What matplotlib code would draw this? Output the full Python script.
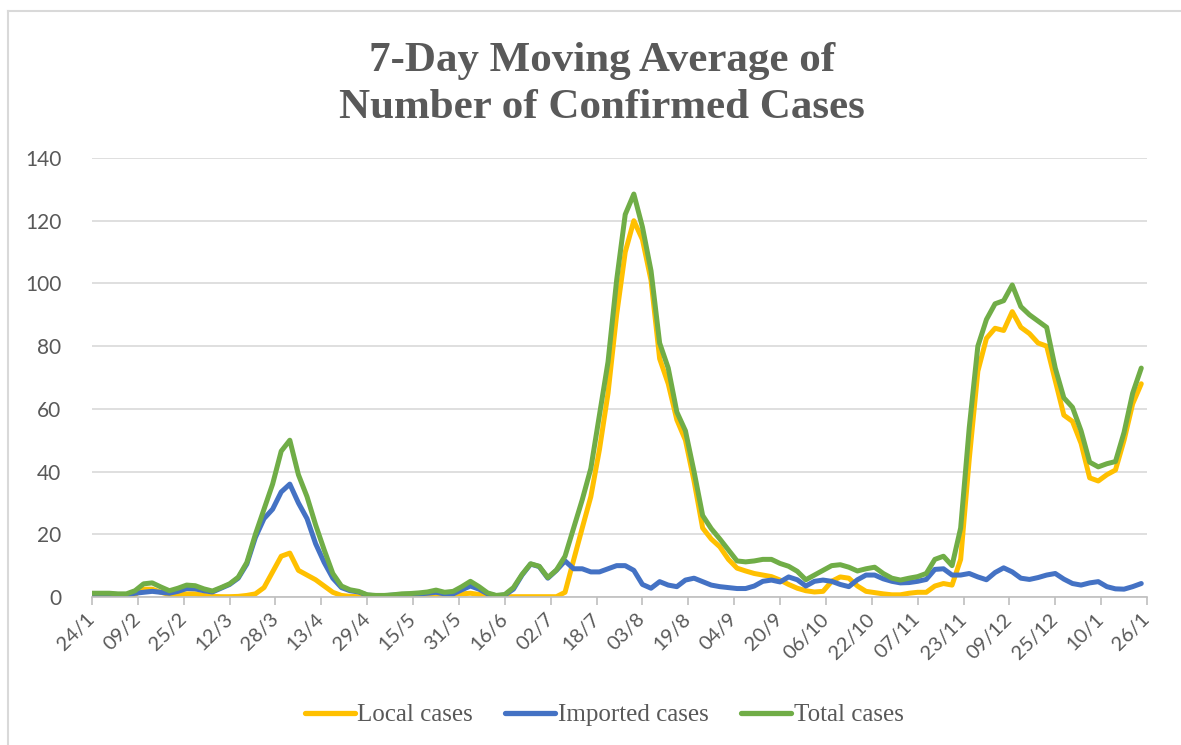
import numpy as np
import pandas as pd
import matplotlib
matplotlib.use("Agg")
import matplotlib.pyplot as plt
from matplotlib.lines import Line2D

# ---- data (7-day moving averages, read every 3 days from 24/1/2020) ----
start_date = "2020-01-24"
day_offset = list(range(0, 367, 3))

local_cases = [
    0.3, 0.3, 0.3, 0.2, 0.3, 0.8, 2.5, 2.5, 1.5, 0.8,
    0.8, 1.0, 1.0, 0.5, 0.2, 0.1, 0.1, 0.2, 0.5, 1.0,
    3.0, 8.0, 13.0, 14.0, 8.5, 7.0, 5.5, 3.5, 1.5, 0.5,
    0.2, 0.1, 0.1, 0.1, 0.1, 0.1, 0.1, 0.2, 0.3, 0.4,
    0.5, 0.3, 0.8, 1.0, 1.2, 0.8, 0.3, 0.1, 0.1, 0.1,
    0.1, 0.1, 0.1, 0.1, 0.1, 1.5, 11.8, 22.0, 32.0, 47.0,
    65.0, 90.0, 110.0, 120.0, 114.0, 101.0, 76.0, 68.0, 56.5, 50.0,
    37.0, 22.0, 18.5, 16.0, 12.0, 9.2, 8.3, 7.5, 7.0, 6.5,
    5.4, 4.0, 2.8, 2.0, 1.6, 1.8, 5.0, 6.4, 6.0, 3.5,
    1.8, 1.4, 1.0, 0.7, 0.7, 1.2, 1.5, 1.5, 3.5, 4.3,
    3.8, 12.0, 44.0, 72.0, 82.5, 85.7, 85.0, 91.0, 86.0, 84.0,
    81.0, 80.0, 69.0, 58.0, 56.0, 49.0, 38.0, 37.0, 39.0, 40.5,
    50.0, 61.6, 68.0,
]
imported_cases = [
    0.9, 0.9, 0.9, 0.8, 0.6, 1.2, 1.5, 1.8, 1.5, 1.2,
    1.8, 2.7, 2.6, 2.0, 1.6, 2.8, 4.0, 6.0, 10.5, 19.0,
    25.0, 28.0, 33.5, 36.0, 30.0, 25.0, 17.0, 11.0, 6.0, 3.0,
    2.0, 1.6, 0.6, 0.4, 0.4, 0.6, 0.8, 0.9, 1.0, 1.2,
    1.5, 1.0, 1.0, 2.3, 3.5, 2.5, 1.0, 0.4, 0.6, 2.5,
    7.0, 10.5, 9.7, 6.0, 8.5, 11.5, 9.0, 9.0, 8.0, 8.0,
    9.0, 10.0, 10.0, 8.5, 4.0, 2.8, 4.9, 3.8, 3.3, 5.4,
    6.0, 4.9, 3.8, 3.3, 3.0, 2.7, 2.7, 3.5, 5.0, 5.4,
    4.8, 6.4, 5.5, 3.5, 5.0, 5.4, 5.0, 4.0, 3.3, 5.5,
    7.0, 7.0, 5.8, 5.0, 4.5, 4.6, 5.0, 5.6, 8.8, 9.0,
    7.0, 7.0, 7.5, 6.4, 5.5, 7.8, 9.3, 8.0, 6.0, 5.6,
    6.2, 7.0, 7.5, 5.7, 4.3, 3.8, 4.5, 4.9, 3.3, 2.6,
    2.5, 3.3, 4.3,
]
total_cases = [
    1.2, 1.2, 1.2, 1.0, 1.0, 2.0, 4.2, 4.5, 3.2, 2.0,
    2.8, 3.8, 3.6, 2.6, 1.9, 3.0, 4.2, 6.3, 11.0, 20.0,
    28.0, 36.0, 46.5, 50.0, 39.0, 32.0, 23.0, 15.0, 7.5, 3.5,
    2.3, 1.8, 0.7, 0.5, 0.5, 0.7, 1.0, 1.1, 1.3, 1.6,
    2.2, 1.5, 1.8, 3.3, 5.0, 3.3, 1.3, 0.5, 0.8, 3.0,
    7.2, 10.6, 9.8, 6.2, 8.6, 13.0, 22.0, 31.0, 41.0, 58.0,
    75.0, 101.0, 122.0, 128.5, 118.0, 104.0, 81.0, 73.0, 59.0, 53.0,
    40.0, 26.0, 21.8, 18.5, 15.0, 11.5, 11.2, 11.5, 12.0, 12.0,
    10.7, 9.8, 8.2, 5.5, 7.0, 8.5, 10.0, 10.3, 9.5, 8.3,
    9.0, 9.5, 7.5, 6.0, 5.4, 6.0, 6.5, 7.5, 12.0, 13.0,
    10.0, 22.0, 54.0, 80.0, 88.5, 93.5, 94.5, 99.5, 92.6, 90.0,
    88.0, 86.0, 73.0, 63.5, 60.5, 53.0, 43.0, 41.5, 42.5, 43.2,
    52.5, 65.0, 73.0,
]

tick_labels = ["24/1", "09/2", "25/2", "12/3", "28/3", "13/4", "29/4", "15/5",
               "31/5", "16/6", "02/7", "18/7", "03/8", "19/8", "04/9", "20/9",
               "06/10", "22/10", "07/11", "23/11", "09/12", "25/12", "10/1", "26/1"]
y_ticks = [0, 20, 40, 60, 80, 100, 120, 140]

series_names = ["Local cases", "Imported cases", "Total cases"]
series_colors = ["#FFC000", "#4472C4", "#70AD47"]

# ---- figure ----
W, H = 1181, 745
fig = plt.figure(figsize=(W / 100, H / 100), dpi=100)
fig.patch.set_facecolor("white")

ax = fig.add_axes([92 / W, 1 - 597 / H, (1147 - 92) / W, (597 - 158) / H])

t0 = pd.Timestamp(start_date)
dates = t0 + pd.to_timedelta(day_offset, unit="D")
tick_dates = pd.date_range(t0, periods=len(tick_labels), freq="16D")

for vals, name, col in zip([local_cases, imported_cases, total_cases],
                           series_names, series_colors):
    ax.plot(dates, vals, color=col, lw=3.6, label=name,
            solid_joinstyle="round", solid_capstyle="round")

ax.set_xlim(tick_dates[0], tick_dates[-1])
ax.set_ylim(0, 140)
ax.set_yticks(y_ticks)
ax.set_yticklabels([str(v) for v in y_ticks], family="Lato", fontsize=15,
                   color="#595959")
ax.set_xticks(tick_dates)
ax.set_xticklabels(tick_labels, family="Lato", fontsize=14.5, color="#595959",
                   rotation=45, ha="right", va="center", rotation_mode="anchor")

ax.grid(axis="y", color="#D9D9D9", lw=1.2)
ax.set_axisbelow(True)
for s in ["top", "right", "left"]:
    ax.spines[s].set_visible(False)
ax.spines["bottom"].set_color("#BFBFBF")
ax.spines["bottom"].set_linewidth(1.2)
ax.tick_params(axis="y", length=0, pad=22)
ax.tick_params(axis="x", length=6, width=1.2, color="#BFBFBF", direction="out", pad=8)

# title
fig.text(602 / W, 1 - 71 / H, "7-Day Moving Average of", ha="center", va="baseline",
         family="Liberation Serif", fontweight="bold", fontsize=31, color="#595959")
fig.text(602 / W, 1 - 118 / H, "Number of Confirmed Cases", ha="center", va="baseline",
         family="Liberation Serif", fontweight="bold", fontsize=31, color="#595959")

# legend
leg = ax.legend(loc="center", bbox_to_anchor=(604 / W, 1 - 715 / H),
                bbox_transform=fig.transFigure, ncol=3, frameon=False,
                prop={"family": "Liberation Serif", "size": 18},
                handlelength=2.0, handletextpad=0.1, columnspacing=1.3)
for txt in leg.get_texts():
    txt.set_color("#595959")
for ln in leg.get_lines():
    ln.set_linewidth(3.8)

# chart border (partially visible in the reference)
fig.add_artist(Line2D([8 / W, 1.0], [1 - 11 / H, 1 - 11 / H],
                      transform=fig.transFigure, color="#D9D9D9", lw=1.5))
fig.add_artist(Line2D([8 / W, 8 / W], [0, 1 - 11 / H],
                      transform=fig.transFigure, color="#D9D9D9", lw=1.5))

fig.savefig("out.png", dpi=100)
